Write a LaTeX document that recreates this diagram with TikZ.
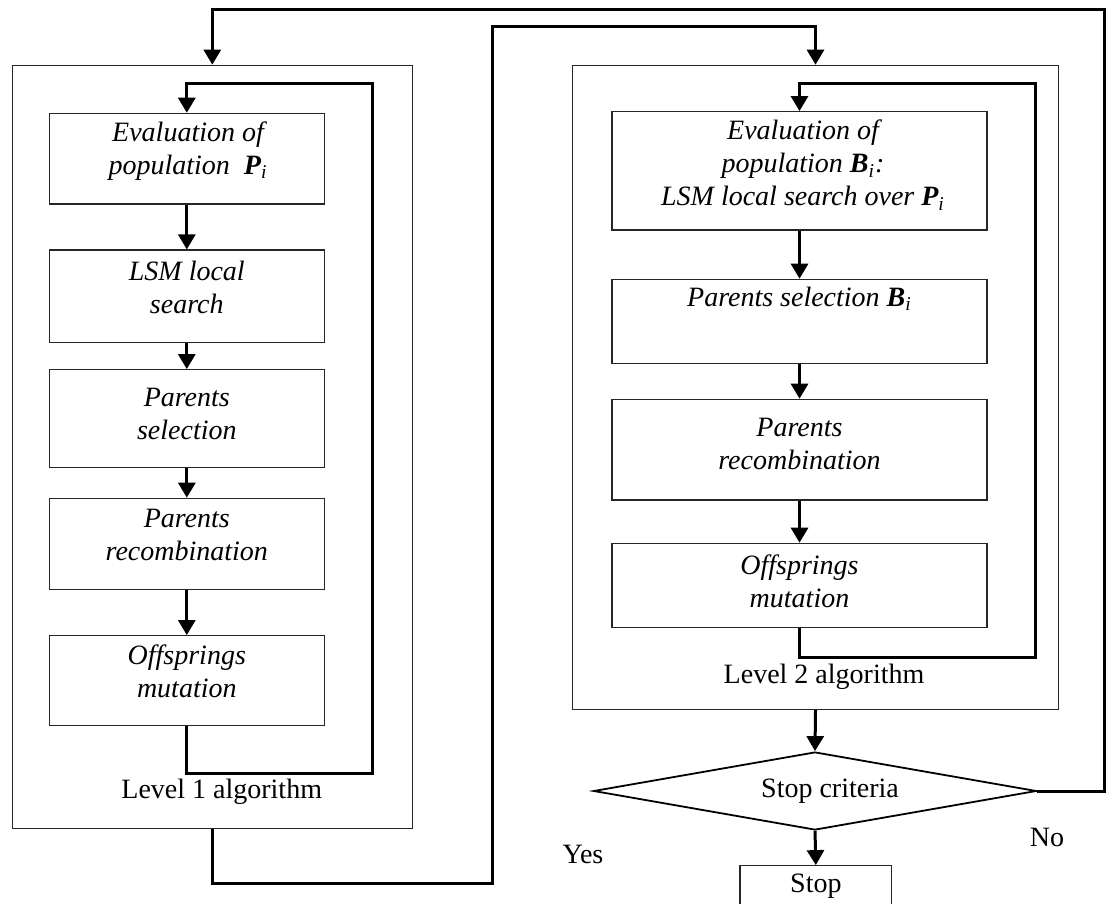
\documentclass[tikz,border=0pt]{standalone}
\usepackage{fontspec}
\setmainfont{Liberation Serif}
\usetikzlibrary{shapes.geometric,arrows.meta,calc}
\tikzset{
  procbox/.style={draw=black!85, line width=0.6pt, inner sep=0pt},
  lbl/.style={font=\fontsize{14}{16.5}\selectfont, align=center, inner sep=0pt},
  itl/.style={font=\fontsize{14}{16.5}\selectfont\itshape, align=center, inner sep=0pt},
  flow/.style={line width=1.5pt, -{Triangle[width=8.5pt,length=7.5pt]}},
}
\begin{document}
\begin{tikzpicture}[x=0.5pt,y=-0.5pt]
\useasboundingbox (0,0) rectangle (1106,903);
\clip (0,0) rectangle (1106,903);
% Level 1 frame
\node[procbox, minimum width=200pt, minimum height=381.5pt] (L1) at (212.3,446.8) {};
\node[procbox, minimum width=137.5pt, minimum height=45.35pt] (b1) at (186.8,158.7) {};
\node[procbox, minimum width=137.5pt, minimum height=46.15pt] (b2) at (186.8,296.2) {};
\node[procbox, minimum width=137.5pt, minimum height=48.8pt] (b3) at (186.8,418.5) {};
\node[procbox, minimum width=137.5pt, minimum height=45.7pt] (b4) at (186.8,544) {};
\node[procbox, minimum width=137.5pt, minimum height=45pt] (b5) at (186.8,680.7) {};
\node[itl] (b1t) at (188,150.7) {Evaluation of\\population\enspace\textbf{P}\textsubscript{i}};
\node[itl] (b2t) at (186.8,287.5) {LSM local\\search};
\node[itl] (b3t) at (186.8,414.2) {Parents\\selection};
\node[itl] (b4t) at (186.8,535) {Parents\\recombination};
\node[itl] (b5t) at (186.8,671.7) {Offsprings\\mutation};
\node[lbl] (lev1) at (221.7,791.7) {Level 1 algorithm};
% Level 2 frame
\node[procbox, minimum width=242.8pt, minimum height=322pt] (L2) at (815.5,387.3) {};
\node[procbox, minimum width=187.5pt, minimum height=59.15pt] (c1) at (799.5,170.85) {};
\node[procbox, minimum width=187.5pt, minimum height=42pt] (c2) at (799.5,321.3) {};
\node[procbox, minimum width=187.5pt, minimum height=50.35pt] (c3) at (799.5,449.65) {};
\node[procbox, minimum width=187.5pt, minimum height=42pt] (c4) at (799.5,585.3) {};
\node[itl] (c1t) at (803,165) {Evaluation of\\population \textbf{B}\textsubscript{i}:\\LSM local search over \textbf{P}\textsubscript{i}};
\node[itl] (c2t) at (799.5,299) {Parents selection \textbf{B}\textsubscript{i}};
\node[itl] (c3t) at (799.5,443.5) {Parents\\recombination};
\node[itl] (c4t) at (799.5,581) {Offsprings\\mutation};
\node[lbl] (lev2) at (824,676.7) {Level 2 algorithm};
% decision and stop
\node[draw=black, line width=0.9pt, diamond, aspect=5.68, inner sep=0pt, minimum width=221.5pt, minimum height=39pt] (dia) at (815,791) {};
\node[lbl] (diat) at (830,791) {Stop criteria};
\node[procbox, minimum width=75.85pt, minimum height=20.3pt] (stop) at (815.85,886) {};
\node[lbl] (stopt) at (815.85,886) {Stop};
\node[lbl] (yes) at (583,854) {Yes};
\node[lbl] (no) at (1047,837.5) {No};
% coordinates for connectors
\coordinate (l1a) at (372.3,773.3);
\coordinate (l1b) at (372.3,83.3);
\coordinate (l2a) at (1035,657.7);
\coordinate (l2b) at (1035,83.3);
\coordinate (m1) at (492.7,883.3);
\coordinate (m2) at (492.7,26.7);
\coordinate (n1) at (1104,791);
\coordinate (n2) at (1104,10);
% Level 1 connectors
\draw[flow] (b1.south) -- (b2.north);
\draw[flow] (b2.south) -- (b3.north);
\draw[flow] (b3.south) -- (b4.north);
\draw[flow] (b4.south) -- (b5.north);
\draw[flow] (b5.south) |- (l1a) -- (l1b) -| (b1.north);
% Level 2 connectors
\draw[flow] (c1.south) -- (c2.north);
\draw[flow] (c2.south) -- (c3.north);
\draw[flow] (c3.south) -- (c4.north);
\draw[flow] (c4.south) |- (l2a) -- (l2b) -| (c1.north);
% between levels
\draw[flow] (L1.south) |- (m1) -- (m2) -| (L2.north);
\draw[flow] (L2.south) -- (dia.north);
\draw[flow] (dia.south) -- (stop.north);
\draw[flow] (dia.east) -- (n1) -- (n2) -| (L1.north);
\end{tikzpicture}
\end{document}
